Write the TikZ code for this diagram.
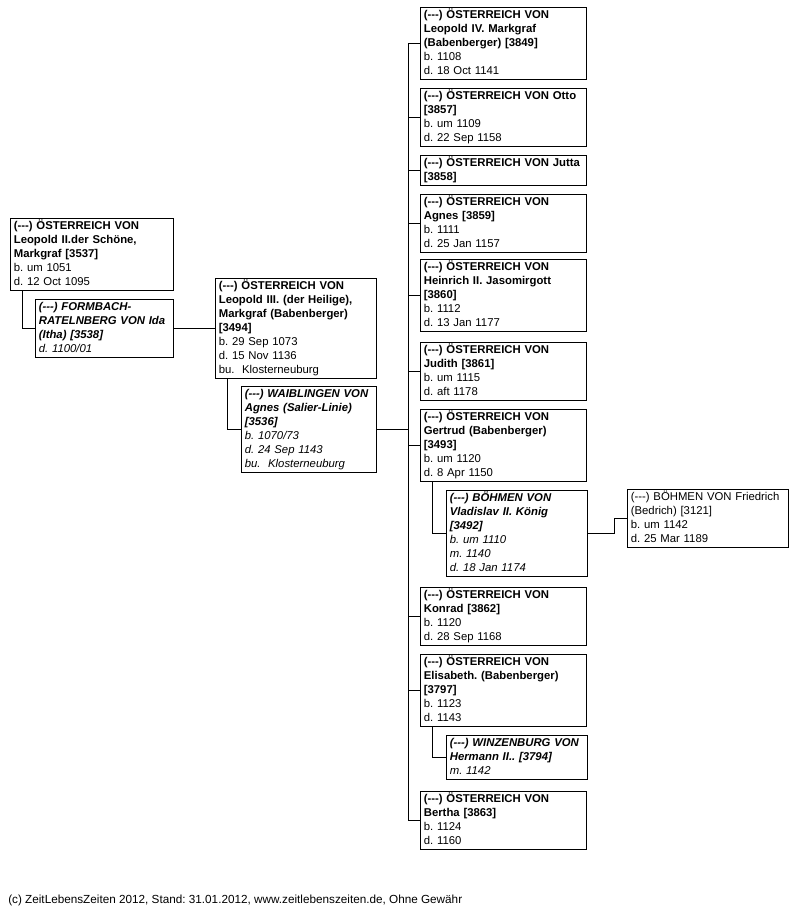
\documentclass[tikz,border=0pt]{standalone}
\usepackage{fontspec}
\setmainfont{Liberation Sans}
\usetikzlibrary{positioning, calc}
\frenchspacing
\newcommand{\unk}{(-\kern0pt-\kern0pt-)}
\tikzset{
  person/.style = {draw, line width=0.75pt, rectangle, anchor=north west,
                   inner xsep=2.5pt, inner ysep=0.75pt, align=left,
                   text width=#1, font=\fontsize{8.5}{10.5}\selectfont,
                   execute at begin node=\strut, execute at end node=\strut},
  spouse/.style = {person=#1, font=\fontsize{8.5}{10.5}\selectfont\itshape},
  link/.style   = {line width=0.75pt},
}

\begin{document}
\begin{tikzpicture}[x=0.75pt, y=-0.75pt]
  \useasboundingbox (0,0) rectangle (802,909);
  % ancestors
  \node[person=117.25pt] (leo2) at (10,218)
    {\bfseries \unk{} ÖSTERREICH VON\\Leopold II.der Schöne,\\Markgraf [3537]\\\mdseries b. um 1051\\d. 12 Oct 1095};
  \node[spouse=98.5pt] (ida) at (35,299)
    {\bfseries \unk{} FORMBACH-\\RATELNBERG VON Ida\\(Itha) [3538]\\\mdseries d. 1100/01};
  \node[person=115.75pt] (leo3) at (215,278)
    {\bfseries \unk{} ÖSTERREICH VON\\Leopold III. (der Heilige),\\Markgraf (Babenberger)\\[0pt][3494]\\\mdseries b. 29 Sep 1073\\d. 15 Nov 1136\\bu.\ \ Klosterneuburg};
  \node[spouse=96.25pt] (agnesw) at (241,386)
    {\bfseries \unk{} WAIBLINGEN VON\\Agnes (Salier-Linie)\\[0pt][3536]\\\mdseries b. 1070/73\\d. 24 Sep 1143\\bu.\ \ Klosterneuburg};
  % children
  \node[person=119.5pt] (leo4) at (420,7)
    {\bfseries \unk{} ÖSTERREICH VON\\Leopold IV. Markgraf\\(Babenberger) [3849]\\\mdseries b. 1108\\d. 18 Oct 1141};
  \node[person=119.5pt] (otto) at (420,88)
    {\bfseries \unk{} ÖSTERREICH VON Otto\\[0pt][3857]\\\mdseries b. um 1109\\d. 22 Sep 1158};
  \node[person=119.5pt] (jutta) at (420,155)
    {\bfseries \unk{} ÖSTERREICH VON Jutta\\[0pt][3858]};
  \node[person=119.5pt] (agnes) at (420,194)
    {\bfseries \unk{} ÖSTERREICH VON\\Agnes [3859]\\\mdseries b. 1111\\d. 25 Jan 1157};
  \node[person=119.5pt] (heinrich) at (420,259)
    {\bfseries \unk{} ÖSTERREICH VON\\Heinrich II. Jasomirgott\\[0pt][3860]\\\mdseries b. 1112\\d. 13 Jan 1177};
  \node[person=119.5pt] (judith) at (420,342)
    {\bfseries \unk{} ÖSTERREICH VON\\Judith [3861]\\\mdseries b. um 1115\\d. aft 1178};
  \node[person=119.5pt] (gertrud) at (420,409)
    {\bfseries \unk{} ÖSTERREICH VON\\Gertrud (Babenberger)\\[0pt][3493]\\\mdseries b. um 1120\\d. 8 Apr 1150};
  \node[spouse=100.75pt] (vladislav) at (446,490)
    {\bfseries \unk{} BÖHMEN VON\\Vladislav II. König\\[0pt][3492]\\\mdseries b. um 1110\\m. 1140\\d. 18 Jan 1174};
  \node[person=115.75pt] (friedrich) at (627,489)
    {\unk{} BÖHMEN VON Friedrich\\(Bedrich) [3121]\\b. um 1142\\d. 25 Mar 1189};
  \node[person=119.5pt] (konrad) at (420,587)
    {\bfseries \unk{} ÖSTERREICH VON\\Konrad [3862]\\\mdseries b. 1120\\d. 28 Sep 1168};
  \node[person=119.5pt] (elisabeth) at (420,654)
    {\bfseries \unk{} ÖSTERREICH VON\\Elisabeth. (Babenberger)\\[0pt][3797]\\\mdseries b. 1123\\d. 1143};
  \node[spouse=100.75pt] (winzenburg) at (446,735)
    {\bfseries \unk{} WINZENBURG VON\\Hermann II.. [3794]\\\mdseries m. 1142};
  \node[person=119.5pt] (bertha) at (420,791)
    {\bfseries \unk{} ÖSTERREICH VON\\Bertha [3863]\\\mdseries b. 1124\\d. 1160};
  % connectors
  \draw[link] ([xshift=9pt]leo2.south west) |- (ida.west);
  \draw[link] (ida.east) -- (leo3.west);
  \draw[link] ([xshift=9pt]leo3.south west) |- (agnesw.west);
  \coordinate (trunk) at ([xshift=-9pt]leo4.west);
  \draw[link] (trunk) -- (trunk |- bertha.west);
  \draw[link] (agnesw.east) -- (agnesw.east -| trunk);
  \foreach \c in {leo4, otto, jutta, agnes, heinrich, judith, gertrud, konrad, elisabeth, bertha}
    \draw[link] (\c.west) -- (\c.west -| trunk);
  \draw[link] ([xshift=9pt]gertrud.south west) |- (vladislav.west);
  \draw[link] (vladislav.east) -- ++(19.5pt,0) |- (friedrich.west);
  \draw[link] ([xshift=9pt]elisabeth.south west) |- (winzenburg.west);
  % footer
  \node[anchor=west, inner sep=0pt, font=\fontsize{8.8}{10.5}\selectfont] (foot) at (8,900)
    {(c) ZeitLebensZeiten 2012, Stand: 31.01.2012, www.zeitlebenszeiten.de, Ohne Gewähr};
\end{tikzpicture}
\end{document}
